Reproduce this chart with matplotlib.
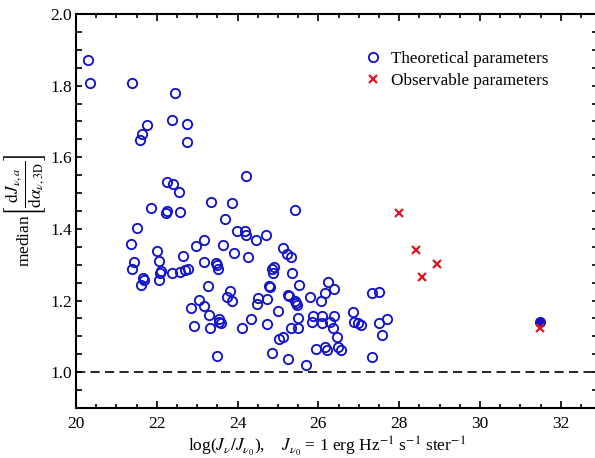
import numpy as np
import matplotlib
matplotlib.use("Agg")
from matplotlib import pyplot as plt
from matplotlib.ticker import MultipleLocator

plt.rcParams['font.family'] = ['Liberation Serif', 'DejaVu Serif']
plt.rcParams['mathtext.fontset'] = 'stix'

# theoretical parameters (open circles)
theo_x = [20.30, 20.35, 21.39, 22.45, 22.38, 22.75, 21.77, 21.64, 21.59, 22.75,
          24.22, 22.25, 22.40, 22.55, 23.34, 23.85, 21.85, 22.25, 22.22, 22.58,
          25.43, 23.70, 21.51, 23.99, 24.18, 24.20, 21.37, 21.43, 21.39, 21.66,
          21.68, 21.61, 22.00, 22.06, 22.10, 22.09, 22.06, 22.38, 22.64, 22.58,
          22.71, 22.77, 22.96, 23.17, 23.17, 23.05, 23.17, 22.85, 23.27, 23.29,
          22.91, 23.32, 23.50, 23.47, 23.51, 23.49, 23.65, 23.92, 24.27, 24.46,
          24.71, 23.81, 23.75, 23.87, 23.54, 23.58, 23.55, 24.10, 24.32, 24.47,
          24.51, 24.72, 24.77, 24.80, 24.84, 24.91, 24.88, 25.13, 25.23, 25.31,
          25.34, 24.72, 24.99, 25.03, 25.13, 24.84, 25.26, 25.31, 25.26, 25.28,
          25.42, 25.46, 25.44, 25.52, 25.78, 26.06, 26.16, 26.23, 26.39, 25.50,
          25.50, 25.69, 25.87, 26.08, 26.39, 25.83, 26.08, 26.29, 26.35, 26.45,
          25.94, 26.16, 26.22, 26.49, 26.55, 26.86, 26.88, 26.99, 27.05, 27.32,
          27.51, 27.51, 27.71, 27.58, 27.32]
theo_y = [1.871, 1.807, 1.807, 1.779, 1.705, 1.693, 1.691, 1.665, 1.649, 1.643,
          1.548, 1.530, 1.526, 1.502, 1.476, 1.473, 1.459, 1.451, 1.444, 1.448,
          1.452, 1.428, 1.402, 1.393, 1.394, 1.382, 1.357, 1.307, 1.287, 1.262,
          1.256, 1.243, 1.339, 1.310, 1.283, 1.278, 1.258, 1.276, 1.324, 1.280,
          1.284, 1.287, 1.352, 1.370, 1.308, 1.201, 1.185, 1.179, 1.240, 1.160,
          1.129, 1.124, 1.044, 1.306, 1.287, 1.298, 1.356, 1.333, 1.322, 1.369,
          1.382, 1.228, 1.211, 1.199, 1.148, 1.138, 1.140, 1.124, 1.149, 1.191,
          1.207, 1.205, 1.241, 1.238, 1.289, 1.295, 1.278, 1.348, 1.329, 1.322,
          1.278, 1.134, 1.171, 1.092, 1.097, 1.053, 1.036, 1.124, 1.216, 1.212,
          1.199, 1.188, 1.192, 1.242, 1.211, 1.199, 1.220, 1.251, 1.233, 1.152,
          1.124, 1.020, 1.157, 1.157, 1.157, 1.140, 1.136, 1.140, 1.122, 1.097,
          1.064, 1.069, 1.062, 1.071, 1.062, 1.168, 1.140, 1.138, 1.131, 1.222,
          1.224, 1.138, 1.148, 1.105, 1.041]

# combined value (filled circle)
filled_x = [31.48]
filled_y = [1.141]

# observable parameters (crosses)
obs_x = [28.00, 28.42, 28.57, 28.93, 31.48]
obs_y = [1.445, 1.340, 1.265, 1.303, 1.122]

blue = '#1414c8'
red = '#e0141e'

fig = plt.figure(figsize=(5.95, 4.58), dpi=100)
ax = fig.add_axes([0.1277, 0.1092, 0.8773, 0.8602])

ax.axhline(1.0, color='black', lw=1.2, dashes=(5.5, 3.2), zorder=1)

ax.plot(theo_x, theo_y, 'o', ls='none', mfc='none', mec=blue, ms=6.7, mew=1.35,
        label='Theoretical parameters', zorder=2)
ax.plot(filled_x, filled_y, 'o', ls='none', mfc=blue, mec=blue, ms=7, mew=1.0, zorder=3)
ax.plot(obs_x, obs_y, 'x', ls='none', color=red, ms=6.3, mew=1.6,
        label='Observable parameters', zorder=4)

ax.set_xlim(20, 32.92)
ax.set_ylim(0.9, 2.0)
ax.xaxis.set_major_locator(MultipleLocator(2))
ax.xaxis.set_minor_locator(MultipleLocator(0.5))
ax.yaxis.set_major_locator(MultipleLocator(0.2))
ax.yaxis.set_minor_locator(MultipleLocator(0.05))
ax.yaxis.set_major_formatter(matplotlib.ticker.FormatStrFormatter('%.1f'))

ax.tick_params(which='both', direction='in', top=True, right=True, width=1.2,
               labelsize=12.5)
ax.tick_params(axis='x', which='major', length=5.2, pad=6)
ax.tick_params(axis='x', which='minor', length=2.8)
ax.tick_params(axis='y', which='both', length=4.3, pad=3)
for sp in ax.spines.values():
    sp.set_linewidth(1.5)

ax.set_xlabel(r'log($J_\nu/J_{\nu_0}$),    $J_{\nu_0}$ = 1 erg Hz$^{-1}$ s$^{-1}$ ster$^{-1}$',
              fontsize=12.5)
ax.xaxis.set_label_coords(0.481, -0.068)
ax.set_ylabel(r'median$\left[\dfrac{\mathrm{d}J_{\nu,a}}{\mathrm{d}\alpha_{\nu,\mathrm{3D}}}\right]$',
              fontsize=12.5)
ax.yaxis.set_label_coords(-0.053, 0.5)

ax.legend(loc='upper left', bbox_to_anchor=(0.552, 0.905), frameon=False,
          numpoints=1, fontsize=12.3, handlelength=1.0, handletextpad=0.6,
          labelspacing=0.3, borderpad=0, borderaxespad=0)

fig.savefig('out.png', dpi=100)
